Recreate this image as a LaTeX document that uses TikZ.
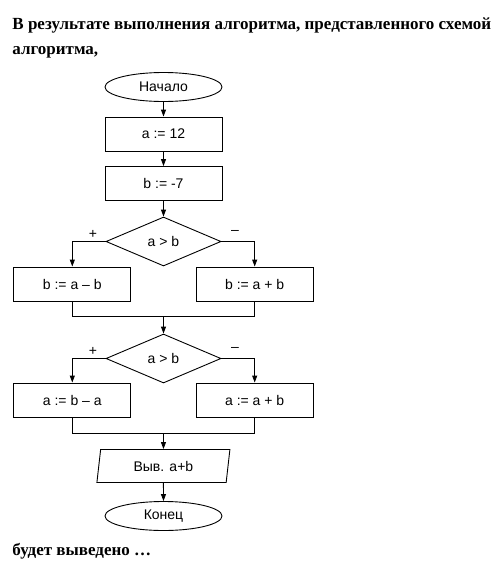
\documentclass[tikz,border=0pt]{standalone}
\usepackage{fontspec}
\setmainfont{Liberation Serif}
\newfontfamily\chartfont{Liberation Sans}
\usetikzlibrary{shapes.geometric,arrows.meta}

\begin{document}
\begin{tikzpicture}[x=1pt,y=-1pt,
  line width=0.9pt,
  every node/.style={inner sep=0pt, font=\chartfont\fontsize{14}{16}\selectfont},
  terminal/.style={draw, ellipse, minimum width=117pt, minimum height=29pt},
  process/.style={draw, rectangle, minimum width=117pt, minimum height=34pt},
  decision/.style={draw, diamond, minimum width=115pt, minimum height=49pt},
  io/.style={draw, trapezium, trapezium left angle=70, trapezium right angle=110,
    trapezium stretches body, minimum width=133pt, minimum height=33pt},
  flow/.style={-{Triangle[length=7pt,width=5pt]}},
  heading/.style={anchor=base west, font=\bfseries\fontsize{17}{20}\selectfont}
]
\useasboundingbox (0,0) rectangle (503,587);
\fill[white] (0,0) rectangle (503,587);

% question text
\node[heading] (q1) at (12,29) {В результате выполнения алгоритма, представленного схемой};
\node[heading] (q2) at (12,54) {алгоритма,};
\node[heading] (q3) at (12,555) {будет выведено \dots};

% flowchart blocks
\node[terminal] (start) at (163.5,87) {Начало};
\node[process]  (s1) at (163.5,134) {a := 12};
\node[process]  (s2) at (163.5,183.5) {b := -7};
\node[decision] (c1) at (163.5,241.5) {a > b};
\node[process]  (l1) at (72.3,284) {b := a – b};
\node[process]  (r1) at (254.7,284) {b := a + b};
\coordinate (m1) at (163.5,316.7);
\node[decision] (c2) at (163.5,358.5) {a > b};
\node[process]  (l2) at (72.3,400) {a := b – a};
\node[process]  (r2) at (254.7,400) {a := a + b};
\coordinate (m2) at (163.5,433.3);
\node[io]       (out) at (163.4,466) {Выв. a+b};
\node[terminal] (stop) at (163.5,516) {Конец};

% branch labels
\node (p1) at (93,234) {+};
\node (n1) at (235,232) {–};
\node (p2) at (93,351) {+};
\node (n2) at (235,349) {–};

% connectors
\draw[flow] (start) -- (s1);
\draw[flow] (s1) -- (s2);
\draw[flow] (s2) -- (c1);
\draw[flow] (c1.west) -| (l1.north);
\draw[flow] (c1.east) -| (r1.north);
\draw (l1.south) |- (m1) -| (r1.south);
\draw[flow] (m1) -- (c2);
\draw[flow] (c2.west) -| (l2.north);
\draw[flow] (c2.east) -| (r2.north);
\draw (l2.south) |- (m2) -| (r2.south);
\draw[flow] (m2) -- (out);
\draw[flow] (out) -- (stop);
\end{tikzpicture}
\end{document}
